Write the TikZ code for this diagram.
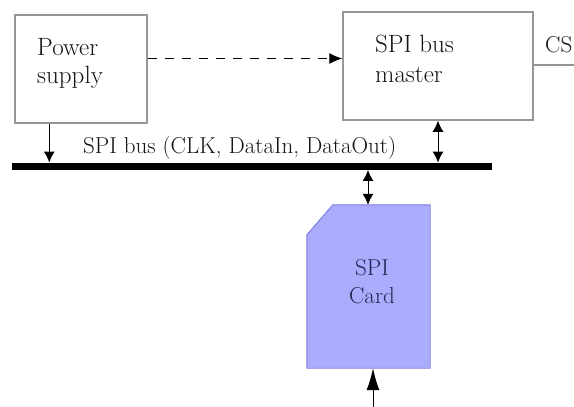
\documentclass[tikz,border=0pt]{standalone}
\usetikzlibrary{arrows.meta,calc}
\definecolor{boxgray}{RGB}{150,150,150}
\definecolor{cardfill}{RGB}{172,172,252}
\definecolor{cardedge}{RGB}{125,125,225}
\definecolor{cardtext}{RGB}{35,35,85}
\definecolor{txtgray}{RGB}{20,20,20}
\tikzset{
  blockbox/.style={draw=boxgray,line width=1.5pt,minimum width=#1,minimum height=108pt,inner sep=0pt},
  lbl/.style={font=\fontsize{25}{29}\selectfont,text=txtgray,inner sep=0pt,anchor=base west},
  cardlbl/.style={font=\fontsize{23}{28}\selectfont,text=cardtext,inner sep=0pt,anchor=base},
  arr/.style={line width=1pt,-{Latex[length=11pt,width=11pt]}},
  darr/.style={line width=1pt,{Latex[length=11pt,width=11pt]}-{Latex[length=11pt,width=11pt]}},
}
\begin{document}
\begin{tikzpicture}[x=1pt,y=1pt]
\useasboundingbox (0,0) rectangle (574,-407);
% boxes
\node[blockbox=132pt] (power) at (81,-69) {};
\node[blockbox=190pt] (master) at (438,-66) {};
\node[lbl] (powerA) at (37,-55) {Power};
\node[lbl] (powerB) at (37,-83) {supply};
\node[lbl] (masterA) at (375,-52) {SPI bus};
\node[lbl] (masterB) at (375,-82) {master};
% bus
\node[fill=black,minimum width=480pt,minimum height=7pt,inner sep=0pt] (bus) at (252,-166.25) {};
\node[font=\fontsize{23}{28}\selectfont,text=txtgray,inner sep=0pt,anchor=base west] (buslbl) at (83,-153) {SPI bus (CLK, DataIn, DataOut)};
% card
\node[minimum width=123pt,minimum height=163pt,inner sep=0pt] (card) at (368.5,-286.5) {};
\fill[cardfill,draw=cardedge,line width=0.9pt]
  ([yshift=-30pt]card.north west) -- ([xshift=26pt]card.north west) -- (card.north east)
  -- (card.south east) -- (card.south west) -- cycle;
\node[cardlbl] (cardA) at (372,-275) {SPI};
\node[cardlbl] (cardB) at (372,-303) {Card};
% CS
\coordinate (cs0) at ([yshift=1pt]master.east);
\coordinate (csend) at (574,0 |- cs0);
\draw[boxgray,line width=1.3pt] (cs0) -- (csend);
\node[font=\fontsize{23}{28}\selectfont,text=txtgray,anchor=base west,inner sep=0pt] (cs) at (545,-52) {CS};
% connectors
\coordinate (d1) at ([yshift=10.5pt]power.east);
\draw[line width=1pt,dash pattern=on 9pt off 8pt,-{Latex[length=13pt,width=11pt]}] (d1) -- (d1 -| master.west);
\coordinate (p1) at ([xshift=35pt]power.south west);
\draw[arr] (p1) -- (p1 |- bus.north);
\draw[darr] (master.south) -- (master.south |- bus.north);
\coordinate (c1) at ([xshift=-0.5pt]card.north);
\draw[darr] (c1 |- bus.south) -- (c1);
\coordinate (cb) at (373,-407);
\draw[line width=1pt,-{Latex[length=22pt,width=13pt]}] (cb) -- (cb |- card.south);
\end{tikzpicture}
\end{document}
